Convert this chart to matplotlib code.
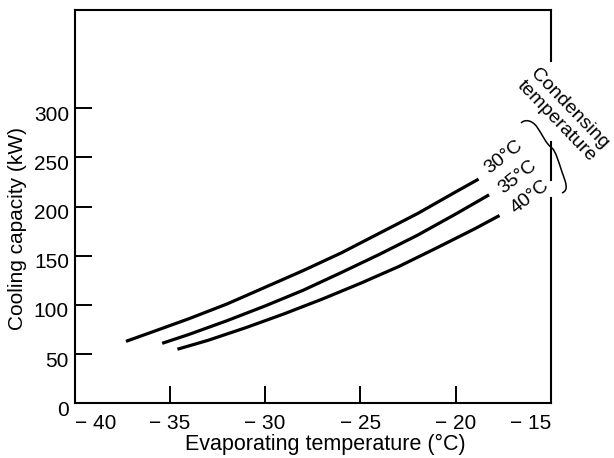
import matplotlib
matplotlib.use('Agg')
import matplotlib.pyplot as plt
from matplotlib.path import Path
from matplotlib.patches import PathPatch
from matplotlib.transforms import Affine2D, ScaledTranslation

plt.rcParams['font.family'] = ['Liberation Sans', 'DejaVu Sans']

## DATA
t_30 = [-37.3, -36, -34, -32, -30, -28, -26, -24, -22, -20, -18.8]
q_30 = [63, 72, 86, 101, 118, 135, 153, 173, 193, 215, 228]
t_35 = [-35.4, -34, -32, -30, -28, -26, -24, -22, -20, -18.25]
q_35 = [61, 70, 84, 99, 115, 133, 151.5, 171, 192.5, 212]
t_40 = [-34.6, -33, -31, -29, -27, -25, -23, -21, -19, -17.7]
q_40 = [55, 64, 77, 91, 106, 122, 139, 158, 177.5, 191]
curve_labels = ['30°C', '35°C', '40°C']
x_ticks = [-40, -35, -30, -25, -20, -15]
x_tick_labels = ['\u2212 40', '\u2212 35', '\u2212 30', '\u2212 25', '\u2212 20', '\u2212 15']
y_ticks = [0, 50, 100, 150, 200, 250, 300]

W, H = 614, 458
fig = plt.figure(figsize=(W / 100, H / 100), dpi=100)
ax = fig.add_axes([74.5 / W, 1 - 403.3 / H, 476.5 / W, 393.3 / H])

# pixel coords (origin top-left) -> figure
px = Affine2D().scale(1 / W, -1 / H).translate(0, 1) + fig.transFigure

for t, q in [(t_30, q_30), (t_35, q_35), (t_40, q_40)]:
    ax.plot(t, q, color='black', lw=2.3, solid_capstyle='butt', solid_joinstyle='round')

ax.set_xlim(-40, -15)
ax.set_ylim(0, 400)
ax.set_xticks(x_ticks)
ax.set_xticklabels(x_tick_labels)
ax.set_yticks(y_ticks)
ax.tick_params(direction='in', length=12, width=1.4, color='black')
ax.tick_params(axis='x', pad=8, labelsize=15)
ax.tick_params(axis='y', pad=4, labelsize=15)
lbls = ax.get_xticklabels()
lbls[0].set_ha('left')
lbls[-1].set_ha('right')
# y labels sit a little below their ticks in the original
for lab in ax.get_yticklabels():
    lab.set_transform(lab.get_transform() + ScaledTranslation(0, -0.05, fig.dpi_scale_trans))

for s in ['left', 'bottom', 'top']:
    ax.spines[s].set_linewidth(1.5)
ax.spines['right'].set_visible(False)
# right border is broken where the annotation crosses it
for y0, y1 in [(10, 61), (142, 180), (198, 403.3)]:
    ax.plot([551, 551], [y0, y1], color='black', lw=1.5, transform=px, clip_on=False)

ax.set_xlabel('Evaporating temperature (°C)', fontsize=15.5)
ax.xaxis.set_label_coords((325 - 74.5) / 476.5, -(434 - 403.3) / 393.3)
ax.set_ylabel('Cooling capacity (kW)', fontsize=15)
ax.yaxis.set_label_coords((27 - 74.5) / 476.5, (403.3 - 228) / 393.3)

# curve labels
for lab, (x, y) in zip(curve_labels, [(504, 157), (518, 177), (530, 197)]):
    fig.text(x, y, lab, transform=px, fontsize=14, rotation=38,
             ha='center', va='center', rotation_mode='anchor')

fig.text(563, 115, 'Condensing\ntemperature', transform=px, fontsize=14,
         rotation=-46, ha='center', va='center', rotation_mode='anchor',
         multialignment='center', linespacing=1.1)

# curly brace
verts = [(521, 123),
         (525, 119), (532, 120), (537, 127),
         (542, 134), (546, 144), (552, 148),
         (556, 152), (558, 160), (562, 172),
         (566, 183), (569, 190), (562, 193)]
codes = [Path.MOVETO] + [Path.CURVE4] * 12
ax.add_patch(PathPatch(Path(verts, codes), transform=px, fill=False,
                       lw=1.1, edgecolor='black', clip_on=False))

fig.savefig('out.png', dpi=100)
